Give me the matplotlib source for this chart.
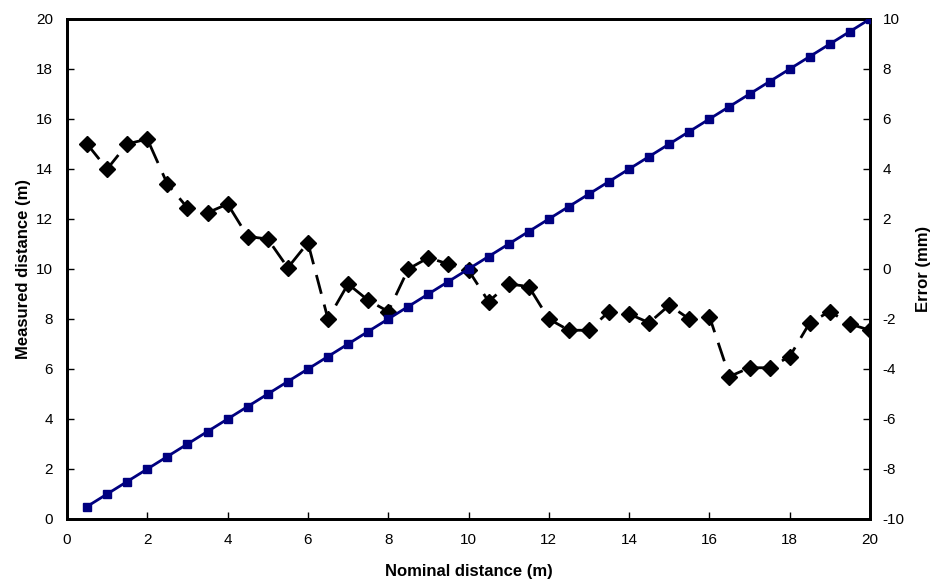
import numpy as np
from matplotlib import pyplot as plt

plt.rcParams['font.family'] = ['Liberation Sans', 'DejaVu Sans']
plt.rcParams['axes.unicode_minus'] = False

nominal = np.arange(0.5, 20.01, 0.5)
measured = np.arange(0.5, 20.01, 0.5)
error = [5.0, 4.0, 5.0, 5.2, 3.4, 2.45, 2.25, 2.6, 1.3, 1.2,
         0.05, 1.05, -2.0, -0.6, -1.25, -1.7, 0.0, 0.45, 0.2, -0.05,
         -1.3, -0.6, -0.7, -2.0, -2.45, -2.45, -1.7, -1.8, -2.15, -1.45,
         -2.0, -1.9, -4.3, -3.95, -3.95, -3.5, -2.15, -1.7, -2.2, -2.45]

fig = plt.figure(figsize=(9.34, 5.81), dpi=100)
ax = fig.add_axes([67/934, 1-519/581, (870-67)/934, 500/581])
ax2 = ax.twinx()

ax.plot(nominal, measured, color='#000080', lw=2, marker='s', ms=6, zorder=3)
ax2.plot(nominal, error, color='black', lw=2, ls=(0, (7, 4)), marker='D', ms=8)

ax.set_xlim(0, 20)
ax.set_ylim(0, 20)
ax2.set_ylim(-10, 10)
ax.set_xticks(np.arange(0, 21, 2))
ax.set_yticks(np.arange(0, 21, 2))
ax2.set_yticks(np.arange(-10, 11, 2))

ax.tick_params(direction='in', length=5, width=1, labelsize=11, pad=10)
ax2.tick_params(direction='in', length=5, width=1, labelsize=11, pad=9)
for a in (ax, ax2):
    for s in a.spines.values():
        s.set_linewidth(2)

ax.set_zorder(ax2.get_zorder() + 1)
ax.patch.set_visible(False)

ax.set_xlabel('Nominal distance (m)', fontsize=12, fontweight='bold', labelpad=12)
ax.set_ylabel('Measured distance (m)', fontsize=12, fontweight='bold', labelpad=4)
ax2.set_ylabel('Error (mm)', fontsize=12, fontweight='bold', labelpad=8)

fig.savefig('out.png', dpi=100)
